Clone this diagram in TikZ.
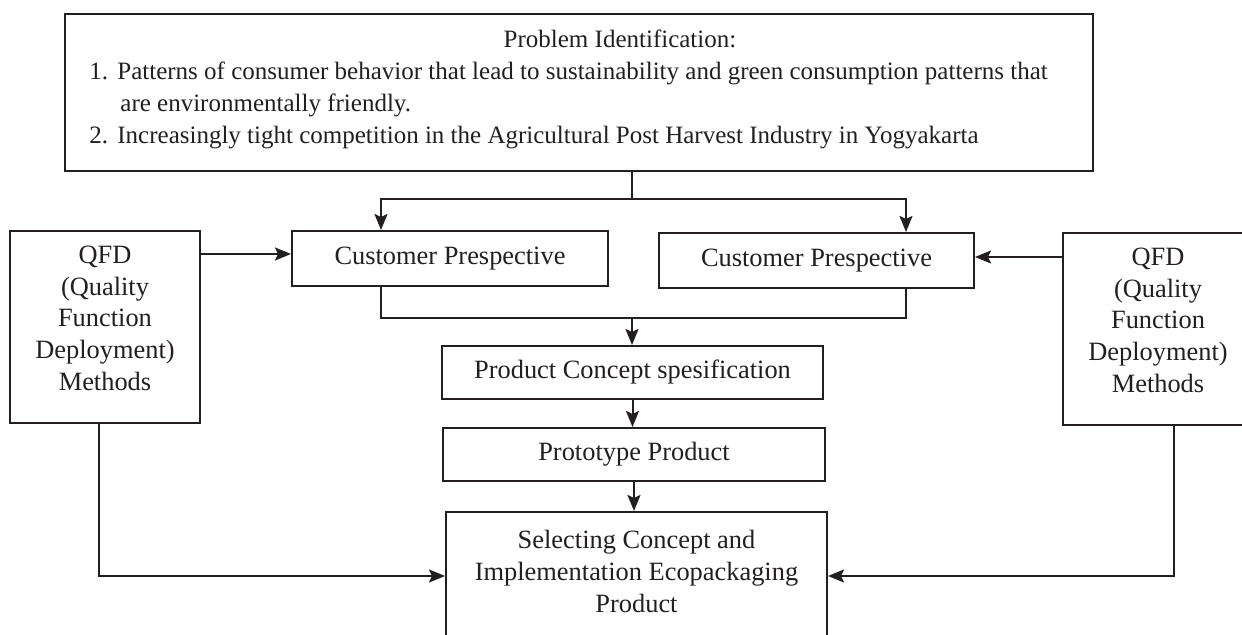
\documentclass[tikz,border=0pt]{standalone}
\usepackage{fontspec}
\setmainfont{Liberation Serif}
\usetikzlibrary{arrows.meta}
\definecolor{ink}{HTML}{231F20}
\newcommand\dfont{\fontsize{13.2}{15.8}\selectfont}
\newcommand\tfont{\fontsize{12.5}{15.8}\selectfont}
\begin{document}
\begin{tikzpicture}[x=0.5pt,y=-0.5pt,
  box/.style={draw=ink, line width=1pt, inner sep=0pt, align=center, font=\dfont, text=ink},
  txt/.style={inner sep=0pt, font=\tfont, text=ink},
  conn/.style={draw=ink, line width=1pt},
  arr/.style={conn, -{Stealth[length=8pt,width=6.5pt,inset=1.5pt]}}]
\clip (0,0) rectangle (1242,635);
\fill[white] (0,0) rectangle (1242,635);
% top box
\node[box, minimum width=514pt, minimum height=78.5pt] (top) at (579,92.5) {};
\node[txt, anchor=base] (title) at (620,48) {Problem Identification:};
\node[txt, anchor=base west] (n1) at (89,80) {1.};
\node[txt, anchor=base west] (t1) at (117,80) {Patterns of consumer behavior that lead to sustainability and green consumption patterns that};
\node[txt, anchor=base west] (t1b) at (120,112) {are environmentally friendly.};
\node[txt, anchor=base west] (n2) at (89,144) {2.};
\node[txt, anchor=base west] (t2) at (117,144) {Increasingly tight competition in the Agricultural Post Harvest Industry in Yogyakarta};
% boxes
\node[box, minimum width=158pt, minimum height=27.5pt] (cp1) at (450,258.5) {Customer Prespective};
\node[box, minimum width=157.5pt, minimum height=27.5pt] (cp2) at (816.5,260.5) {Customer Prespective};
\node[box, minimum width=95pt, minimum height=96pt] (qfdL) at (105,327) {QFD\\(Quality\\Function\\Deployment)\\Methods\\[-7pt]};
\node[box, minimum width=95pt, minimum height=96pt] (qfdR) at (1158,329) {QFD\\(Quality\\Function\\Deployment)\\Methods\\[-7pt]};
\node[box, minimum width=190.5pt, minimum height=26.5pt] (pc) at (632.5,372.5) {Product Concept spesification};
\node[box, minimum width=191pt, minimum height=26.5pt] (proto) at (634,454.5) {Prototype Product};
\node[box, minimum width=190.5pt, minimum height=64pt, font=\fontsize{13.2}{16}\selectfont] (sel) at (636.5,576) {Selecting Concept and\\Implementation Ecopackaging\\Product\\[-11pt]};
% helper coordinates
\coordinate (br) at (632,199);
\coordinate (mg) at (632,318);
\coordinate (x1) at (381,0);
\coordinate (x2) at (906,0);
\coordinate (yL) at (0,254);
\coordinate (yR) at (0,257);
\coordinate (xL) at (99,0);
\coordinate (xR) at (1174,0);
% connectors
\draw[conn] (top.south -| br) -- (br);
\draw[arr] (br) -| (x1 |- cp1.north);
\draw[arr] (br) -| (x2 |- cp2.north);
\draw[conn] (x1 |- cp1.south) |- (mg);
\draw[conn] (x2 |- cp2.south) |- (mg);
\draw[arr] (mg) -- (mg |- pc.north);
\draw[arr] (pc.south) -- (pc.south |- proto.north);
\draw[arr] (proto.south) -- (proto.south |- sel.north);
\draw[arr] (qfdL.east |- yL) -- (cp1.west |- yL);
\draw[arr] (qfdR.west |- yR) -- (cp2.east |- yR);
\draw[arr] (xL |- qfdL.south) |- (sel.west);
\draw[arr] (xR |- qfdR.south) |- (sel.east);
\end{tikzpicture}
\end{document}
